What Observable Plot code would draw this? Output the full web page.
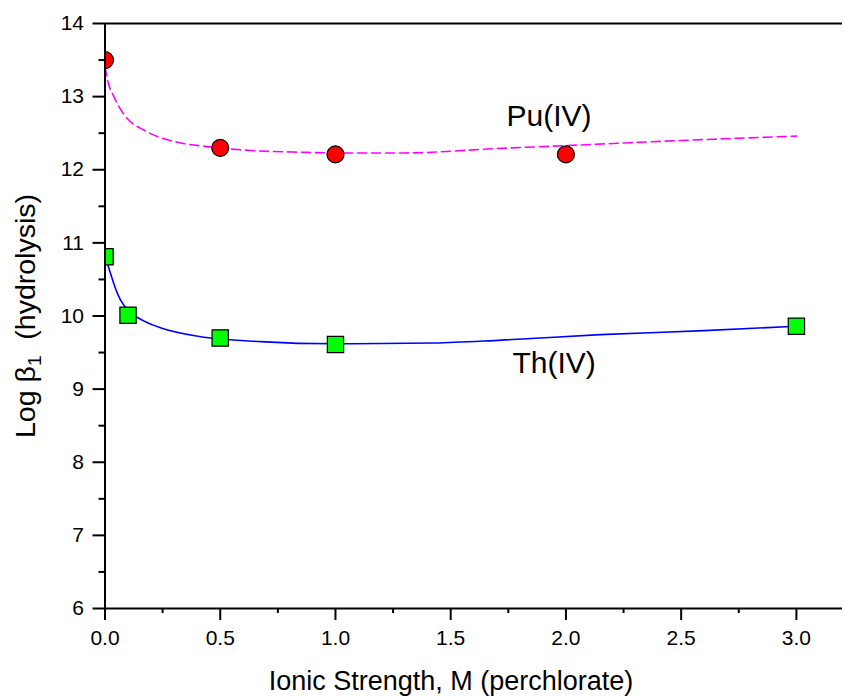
<!DOCTYPE html>
<html><head><meta charset="utf-8">
<script src="https://cdn.jsdelivr.net/npm/d3@7"></script>
<script src="https://cdn.jsdelivr.net/npm/@observablehq/plot@0.6"></script>
<style>
body{margin:0;background:#fff;}
#chart svg{display:block;}
</style></head><body><div id="chart"></div>
<script>
// Measured points
const puX = [0, 0.5, 1.0, 2.0];
const puY = [13.5, 12.3, 12.21, 12.21];
const thX = [0, 0.1, 0.5, 1.0, 3.0];
const thY = [10.81, 10.01, 9.70, 9.61, 9.86];
// Fitted curves
const puFitX = [0, 0.01, 0.04, 0.075, 0.10, 0.17, 0.24, 0.31, 0.46, 0.65, 0.85, 1.0, 1.3, 1.7, 2.0, 2.5, 3.0];
const puFitY = [13.41, 13.24, 12.99, 12.79, 12.69, 12.54, 12.44, 12.38, 12.31, 12.26, 12.24, 12.23, 12.23, 12.29, 12.33, 12.40, 12.46];
const thFitX = [0, 0.024, 0.045, 0.067, 0.11, 0.17, 0.24, 0.41, 0.675, 1.0, 1.43, 1.72, 2.15, 2.6, 3.0];
const thFitY = [10.83, 10.58, 10.38, 10.22, 10.05, 9.93, 9.84, 9.72, 9.65, 9.62, 9.63, 9.67, 9.745, 9.80, 9.86];
// Ticks
const xMajor = [0, 0.5, 1.0, 1.5, 2.0, 2.5, 3.0];
const xMinor = [0.25, 0.75, 1.25, 1.75, 2.25, 2.75];
const yMajor = [6, 7, 8, 9, 10, 11, 12, 13, 14];
const yMinor = [6.5, 7.5, 8.5, 9.5, 10.5, 11.5, 12.5, 13.5];
// Series labels
const seriesLabels = ["Pu(IV)", "Th(IV)"];
const labelX = [1.742, 1.768];
const labelY = [12.6, 9.22];
const xTitle = "Ionic Strength, M (perchlorate)";
const yTitleMain = "Log \u03B2";
const yTitleSub = "1";
const yTitleRest = "  (hydrolysis)";

const pu = puX.map((x, i) => ({x, y: puY[i]}));
const th = thX.map((x, i) => ({x, y: thY[i]}));
const puFit = puFitX.map((x, i) => ({x, y: puFitY[i]}));
const thFit = thFitX.map((x, i) => ({x, y: thFitY[i]}));
const labels = seriesLabels.map((t, i) => ({t, x: labelX[i], y: labelY[i]}));

const font = "'Liberation Sans', Arial, Helvetica, sans-serif";

const plot = Plot.plot({
  width: 843, height: 696,
  marginLeft: 104.5, marginRight: 1, marginTop: 23, marginBottom: 88,
  x: {domain: [0, 3.2]},
  y: {domain: [6, 14]},
  style: {fontFamily: font, fontSize: "21px", color: "black", background: "white"},
  marks: [
    Plot.line(puFit, {x: "x", y: "y", stroke: "#FF00FF", strokeWidth: 1.6, strokeDasharray: "9,5", curve: "monotone-x"}),
    Plot.line(thFit, {x: "x", y: "y", stroke: "#0000FF", strokeWidth: 1.6, curve: "monotone-x"}),
    Plot.dot(pu, {x: "x", y: "y", r: 8.5, fill: "#FF0000", stroke: "black", strokeWidth: 1.2, clip: "frame"}),
    Plot.dot(th, {x: "x", y: "y", symbol: "square", r: 9.2, fill: "#00FF00", stroke: "black", strokeWidth: 1.2, clip: "frame"}),
    Plot.text(labels, {x: "x", y: "y", text: "t", textAnchor: "start", lineAnchor: "bottom", fontSize: 30, fill: "black"}),
    Plot.axisX({ticks: xMajor, tickSize: 12, tickPadding: 10, tickFormat: d => d.toFixed(1), fontSize: 21, label: null, strokeWidth: 2, stroke: "black"}),
    Plot.axisX({ticks: xMinor, tickSize: 5, tickFormat: () => "", label: null, strokeWidth: 2, stroke: "black"}),
    Plot.axisY({ticks: yMajor, tickSize: 12, tickPadding: 9, tickFormat: d => String(d), fontSize: 21, label: null, strokeWidth: 2, stroke: "black"}),
    Plot.axisY({ticks: yMinor, tickSize: 6, tickFormat: () => "", label: null, strokeWidth: 2, stroke: "black"}),
    Plot.ruleX([0], {strokeWidth: 2}),
    Plot.ruleY([6, 14], {strokeWidth: 2})
  ]
});

document.getElementById("chart").appendChild(plot);

const svg = d3.select(plot);

svg.append("text")
  .attr("x", 451).attr("y", 690)
  .attr("text-anchor", "middle")
  .attr("font-family", font).attr("font-size", 27).attr("fill", "black")
  .text(xTitle);

const yt = svg.append("text")
  .attr("transform", "translate(35,316) rotate(-90)")
  .attr("text-anchor", "middle")
  .attr("font-family", font).attr("font-size", 28.5).attr("fill", "black");
yt.append("tspan").text(yTitleMain);
yt.append("tspan").attr("font-size", 19).attr("dy", 6).text(yTitleSub);
yt.append("tspan").attr("dy", -6).text(yTitleRest);
</script>
</body></html>
